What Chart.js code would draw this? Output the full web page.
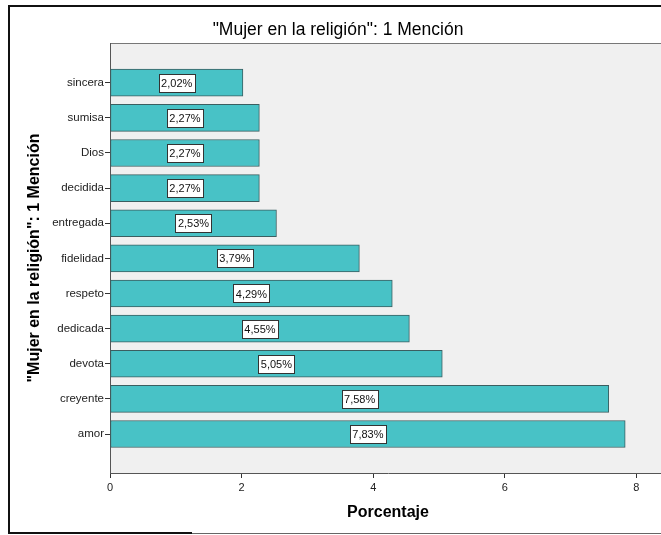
<!DOCTYPE html>
<html>
<head>
<meta charset="utf-8">
<script src="https://cdn.jsdelivr.net/npm/chart.js@4.4.1/dist/chart.umd.min.js"></script>
<style>
  html, body { margin: 0; padding: 0; background: #fff; overflow: hidden; }
  #chart { display: block; }
</style>
</head>
<body>
<canvas id="chart" width="680" height="535"></canvas>
<script>
// categories, top to bottom
const categories = ["sincera", "sumisa", "Dios", "decidida", "entregada", "fidelidad",
  "respeto", "dedicada", "devota", "creyente", "amor"];
// percentages
const percentages = [2.02, 2.27, 2.27, 2.27, 2.53, 3.79, 4.29, 4.55, 5.05, 7.58, 7.83];
const xTicks = [0, 2, 4, 6, 8];

const chartTitle = '"Mujer en la religión": 1 Mención';
const xTitle = "Porcentaje";

const FONT = "'Liberation Sans', Arial, sans-serif";

// white page, SPSS-like frame and grey plot area
const backdrop = {
  id: "backdrop",
  beforeDraw(chart) {
    const { ctx, chartArea: a } = chart;
    ctx.save();
    ctx.fillStyle = "#ffffff";
    ctx.fillRect(0, 0, chart.width, chart.height);
    ctx.fillStyle = "#f0f0f0";
    ctx.fillRect(a.left, a.top, a.right - a.left, a.bottom - a.top);
    ctx.strokeStyle = "#777";
    ctx.lineWidth = 1;
    ctx.beginPath();
    ctx.moveTo(a.left, a.top + 0.5);
    ctx.lineTo(a.right, a.top + 0.5);
    ctx.stroke();
    ctx.restore();
  },
  afterDraw(chart) {
    const ctx = chart.ctx;
    ctx.save();
    ctx.strokeStyle = "#111";
    ctx.lineWidth = 2;
    ctx.beginPath();
    ctx.moveTo(8, 6);
    ctx.lineTo(chart.width, 6);
    ctx.moveTo(9, 5);
    ctx.lineTo(9, 534);
    ctx.moveTo(8, 533);
    ctx.lineTo(192, 533);
    ctx.stroke();
    ctx.strokeStyle = "#666";
    ctx.lineWidth = 1;
    ctx.beginPath();
    ctx.moveTo(192, 533.5);
    ctx.lineTo(chart.width, 533.5);
    ctx.stroke();
    ctx.restore();
  }
};

// boxed value labels in the middle of each bar
const valueBoxes = {
  id: "valueBoxes",
  afterDatasetsDraw(chart) {
    const ctx = chart.ctx;
    const meta = chart.getDatasetMeta(0);
    ctx.save();
    ctx.font = "11px " + FONT;
    ctx.textAlign = "center";
    ctx.textBaseline = "middle";
    meta.data.forEach((bar, i) => {
      const txt = percentages[i].toFixed(2).replace(".", ",") + "%";
      const cx = (bar.base + bar.x) / 2;
      const cy = bar.y;
      const w = Math.round(ctx.measureText(txt).width) + 5;
      const h = 18;
      const x0 = Math.round(cx - w / 2) + 0.5;
      const y0 = Math.round(cy - h / 2) + 0.5;
      ctx.fillStyle = "#fff";
      ctx.fillRect(x0, y0, w, h);
      ctx.strokeStyle = "#333";
      ctx.lineWidth = 1;
      ctx.strokeRect(x0, y0, w, h);
      ctx.fillStyle = "#111";
      ctx.fillText(txt, cx, cy + 1);
    });
    ctx.restore();
  }
};

new Chart(document.getElementById("chart"), {
  type: "bar",
  data: {
    datasets: [{
      data: percentages.map((v, i) => ({ x: v, y: i })),
      backgroundColor: "#48c2c6",
      borderColor: "#3b5e60",
      borderWidth: 1,
      borderSkipped: false,
      barThickness: 27
    }]
  },
  options: {
    indexAxis: "y",
    responsive: false,
    animation: false,
    layout: { padding: { left: 10, right: 14, top: 0, bottom: 0 } },
    plugins: {
      legend: { display: false },
      tooltip: { enabled: false },
      title: {
        display: true,
        text: chartTitle,
        color: "#000",
        font: { family: FONT, size: 17.5, weight: "normal" },
        padding: { top: 20, bottom: 2 }
      }
    },
    scales: {
      x: {
        type: "linear",
        min: 0,
        max: 8.45,
        afterBuildTicks: (scale) => { scale.ticks = xTicks.map(v => ({ value: v })); },
        afterFit: (scale) => { scale.height = 62; },
        ticks: {
          color: "#222",
          font: { family: FONT, size: 11 },
          padding: 3
        },
        grid: { drawOnChartArea: false, tickLength: 5, color: "#333" },
        border: { color: "#555" },
        title: {
          display: true,
          text: xTitle,
          color: "#000",
          font: { family: FONT, size: 16, weight: "bold" },
          padding: { top: 0, bottom: 13 }
        }
      },
      y: {
        type: "linear",
        reverse: true,
        offset: false,
        min: -1.13,
        max: 11.11,
        afterBuildTicks: (scale) => { scale.ticks = categories.map((c, i) => ({ value: i })); },
        afterFit: (scale) => { scale.width = 100; },
        ticks: {
          color: "#222",
          font: { family: FONT, size: 11.5 },
          padding: 1,
          callback: (v) => categories[v]
        },
        grid: { offset: false, drawOnChartArea: false, tickLength: 5, color: "#333" },
        border: { color: "#555" },
        title: {
          display: true,
          text: chartTitle,
          color: "#000",
          font: { family: FONT, size: 16, weight: "bold" },
          padding: { top: 15, bottom: 0 }
        }
      }
    }
  },
  plugins: [backdrop, valueBoxes]
});
</script>
</body>
</html>
